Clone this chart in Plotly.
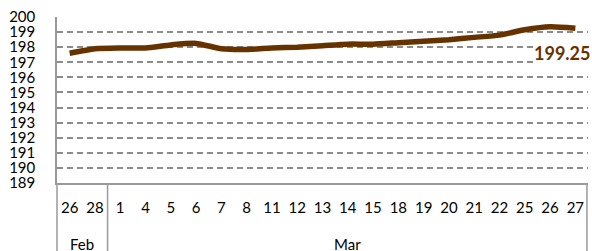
import plotly.graph_objects as go

months = ["Feb", "Mar"]
month_counts = [2, 19]
days = ["26", "28", "1", "4", "5", "6", "7", "8", "11", "12", "13", "14", "15",
        "18", "19", "20", "21", "22", "25", "26", "27"]
values = [197.6, 197.9, 197.95, 197.95, 198.15, 198.25, 197.9, 197.85, 197.95, 198.0,
          198.1, 198.2, 198.2, 198.3, 198.4, 198.5, 198.65, 198.8, 199.15, 199.35, 199.25]
y_ticks = list(range(189, 201))
last_label = "199.25"

LINE = "#663300"
AXIS = "#9a9a9a"
FONT = "Lato"
idx = list(range(len(days)))
n = len(days)

W, H = 592, 251
M = dict(l=57, r=4, t=17, b=68)
plot_h = H - M["t"] - M["b"]

fig = go.Figure()
fig.add_trace(go.Scatter(
    x=idx, y=values, mode="lines",
    line=dict(color=LINE, width=5.5, shape="spline", smoothing=0.6),
    hoverinfo="skip", showlegend=False,
))
fig.add_annotation(
    x=idx[-1], y=values[-1], text="<b>" + last_label + "</b>",
    showarrow=False, xanchor="right", yanchor="top", xshift=16, yshift=-13,
    bgcolor="white", borderpad=0,
    font=dict(family=FONT, size=18, color=LINE),
)

# month group labels and dividers
bottom = -M["b"] / plot_h
start = 0
bounds = [0.0]
for m, c in zip(months, month_counts):
    center = start + (c - 1) / 2
    fig.add_annotation(
        x=center, y=-(244 - (H - M["b"])) / plot_h, xref="x", yref="paper",
        text=m, showarrow=False, xanchor="center", yanchor="middle",
        font=dict(family=FONT, size=15, color="black"),
    )
    start += c
    bounds.append(start / n)
bounds[-1] = 0.998
for b in bounds:
    fig.add_shape(type="line", xref="paper", yref="paper", x0=b, x1=b, y0=0, y1=bottom,
                  line=dict(color=AXIS, width=1.5))

fig.update_layout(
    width=W, height=H, margin=M,
    paper_bgcolor="white", plot_bgcolor="white",
    font=dict(family=FONT, size=15, color="black"),
)
fig.update_yaxes(
    range=[189, 200], tickvals=y_ticks, ticktext=[str(v) for v in y_ticks],
    showgrid=True, gridcolor="#8c8c8c", gridwidth=1.5, griddash="6px,4px",
    showline=True, linecolor=AXIS, linewidth=1.5,
    zeroline=False, ticklabelstandoff=17, tickfont=dict(size=15),
)
fig.update_xaxes(
    range=[-0.5, n - 0.5], tickvals=idx, ticktext=days,
    showgrid=False, zeroline=False,
    showline=True, linecolor=AXIS, linewidth=1.5,
    ticklabelstandoff=10, tickfont=dict(size=15),
)
fig.write_html("out.html", config={"displayModeBar": False},
               post_script="document.body.style.margin='0';document.body.style.overflow='hidden';")
